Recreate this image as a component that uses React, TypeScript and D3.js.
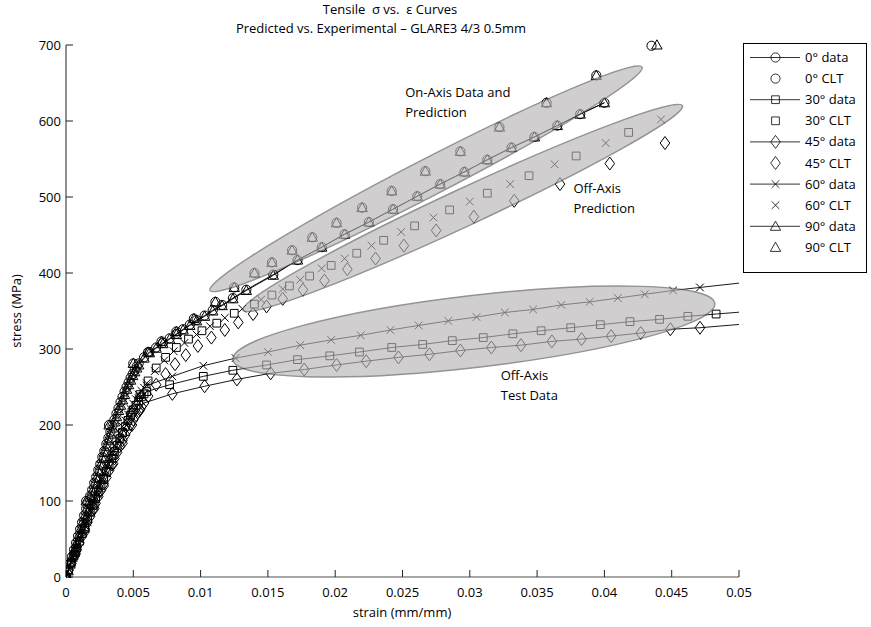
import React from "react";
import * as d3 from "d3";

const WIDTH = 871;
const HEIGHT = 627;

const xTickValues = [0, 0.005, 0.01, 0.015, 0.02, 0.025, 0.03, 0.035, 0.04, 0.045, 0.05];
const xTickLabels = ["0", "0.005", "0.01", "0.015", "0.02", "0.025", "0.03", "0.035", "0.04", "0.045", "0.05"];
const yTickValues = [0, 100, 200, 300, 400, 500, 600, 700];

// [strain (mm/mm), stress (MPa)]
const data0 = [
  [0, 0], [0.00015, 9], [0.0003, 18], [0.00045, 27], [0.0006, 36], [0.00075, 45], [0.0009, 54],
  [0.00105, 63], [0.0012, 72], [0.00135, 81], [0.0015, 90], [0.00165, 98], [0.0018, 107],
  [0.00195, 115], [0.0021, 124], [0.00225, 132], [0.0024, 141], [0.00255, 149], [0.0027, 158],
  [0.00285, 166], [0.003, 175], [0.00315, 183], [0.0033, 191], [0.00345, 199], [0.0036, 207],
  [0.00375, 215], [0.0039, 222], [0.00405, 230], [0.0042, 237], [0.00435, 244], [0.0045, 250],
  [0.00465, 256], [0.0048, 262], [0.00495, 267], [0.0051, 272], [0.00525, 277], [0.0054, 281],
  [0.0058, 289], [0.0062, 296], [0.0067, 302], [0.0072, 308], [0.0077, 314], [0.0082, 320],
  [0.0087, 326], [0.0092, 332], [0.0097, 338], [0.0103, 344], [0.0109, 351], [0.0116, 358],
  [0.0124, 367], [0.0134, 378], [0.0154, 398], [0.0172, 417], [0.019, 434], [0.0207, 451],
  [0.0225, 467], [0.0243, 484], [0.0261, 501], [0.0278, 517], [0.0296, 533], [0.0313, 549],
  [0.0331, 565], [0.0348, 579], [0.0365, 594], [0.0382, 609], [0.04, 624],
];
const clt0 = [
  [0, 0], [0.0015, 100], [0.0032, 200], [0.005, 281], [0.0061, 296], [0.0071, 310], [0.0082, 323],
  [0.0095, 340], [0.0111, 362], [0.0125, 381], [0.014, 400], [0.0153, 414], [0.0168, 430],
  [0.0183, 447], [0.0201, 466], [0.022, 486], [0.0242, 508], [0.0267, 534], [0.0293, 560],
  [0.0322, 592], [0.0357, 624], [0.0394, 660], [0.0435, 699],
];
const data30 = [
  [0, 0], [0.0002, 9.5], [0.0004, 19], [0.0006, 28], [0.0008, 38], [0.001, 47], [0.0012, 57],
  [0.0014, 66], [0.0016, 76], [0.0018, 85], [0.002, 94], [0.0022, 103], [0.0024, 112],
  [0.0026, 121], [0.0028, 130], [0.003, 139], [0.0032, 148], [0.0034, 156], [0.0036, 165],
  [0.0038, 173], [0.004, 182], [0.0042, 190], [0.0044, 198], [0.0046, 206], [0.0048, 213],
  [0.005, 220], [0.0052, 226], [0.0054, 232], [0.0056, 237], [0.0058, 241], [0.006, 244],
  [0.0077, 253], [0.0102, 264], [0.0124, 272], [0.0149, 279], [0.0172, 286], [0.0196, 291],
  [0.0218, 296], [0.0242, 302], [0.0265, 306], [0.0287, 311], [0.031, 315], [0.0332, 320],
  [0.0353, 324], [0.0375, 328], [0.0397, 332], [0.0419, 336], [0.0441, 339], [0.0462, 343],
  [0.0483, 346], [0.0504, 349],
];
const clt30 = [
  [0, 0], [0.0007, 32], [0.0014, 64], [0.0021, 96], [0.0028, 128], [0.0035, 160], [0.0042, 190],
  [0.0049, 217], [0.0055, 240], [0.0061, 258], [0.0067, 275], [0.0074, 289], [0.0082, 302],
  [0.0091, 313], [0.0101, 324], [0.0112, 334], [0.0125, 347], [0.014, 359], [0.0153, 371],
  [0.0166, 383], [0.0181, 396], [0.0197, 410], [0.0216, 426], [0.0236, 443], [0.0259, 462],
  [0.0285, 483], [0.0313, 505], [0.0344, 528], [0.0379, 554], [0.0418, 585],
];
const data45 = [
  [0, 0], [0.0002, 9], [0.0004, 18], [0.0006, 27], [0.0008, 36], [0.001, 45], [0.0012, 54],
  [0.0014, 63], [0.0016, 72], [0.0018, 80], [0.002, 89], [0.0022, 97], [0.0024, 106],
  [0.0026, 114], [0.0028, 123], [0.003, 131], [0.0032, 140], [0.0034, 148], [0.0036, 156],
  [0.0038, 164], [0.004, 172], [0.0042, 180], [0.0044, 187], [0.0046, 194], [0.0048, 201],
  [0.005, 207], [0.0052, 213], [0.0054, 218], [0.0056, 224], [0.0058, 229], [0.0079, 241],
  [0.0103, 251], [0.0127, 260], [0.0152, 268], [0.0177, 273], [0.0201, 279], [0.0223, 284],
  [0.0247, 289], [0.027, 293], [0.0293, 298], [0.0316, 302], [0.0338, 305], [0.0361, 310],
  [0.0383, 313], [0.0405, 317], [0.0427, 321], [0.0449, 326], [0.0471, 328], [0.0505, 333],
];
const clt45 = [
  [0, 0], [0.0007, 30], [0.0014, 60], [0.0021, 90], [0.0028, 120], [0.0035, 149], [0.0042, 176],
  [0.0049, 200], [0.0055, 220], [0.0061, 238], [0.0067, 253], [0.0074, 267], [0.0081, 280],
  [0.0089, 292], [0.0098, 304], [0.0108, 315], [0.0118, 325], [0.0128, 335], [0.0139, 346],
  [0.0149, 356], [0.0161, 366], [0.0176, 378], [0.0192, 390], [0.0209, 405], [0.023, 419],
  [0.0251, 436], [0.0275, 456], [0.0303, 474], [0.0333, 495], [0.0367, 517], [0.0404, 544],
  [0.0445, 571],
];
const data60 = [
  [0, 0], [0.0002, 10], [0.0004, 20], [0.0006, 30], [0.0008, 40], [0.001, 50], [0.0012, 60],
  [0.0014, 70], [0.0016, 80], [0.0018, 90], [0.002, 99], [0.0022, 109], [0.0024, 118],
  [0.0026, 128], [0.0028, 137], [0.003, 146], [0.0032, 155], [0.0034, 164], [0.0036, 173],
  [0.0038, 182], [0.004, 190], [0.0042, 198], [0.0044, 206], [0.0046, 214], [0.0048, 221],
  [0.005, 228], [0.0052, 234], [0.0054, 240], [0.0056, 245], [0.0058, 249], [0.006, 252],
  [0.0079, 264], [0.0102, 278], [0.0126, 288], [0.015, 296], [0.0174, 305], [0.0197, 312],
  [0.0219, 318], [0.0241, 325], [0.0262, 331], [0.0284, 337], [0.0305, 342], [0.0326, 348],
  [0.0347, 352], [0.0368, 358], [0.0389, 362], [0.041, 367], [0.043, 372], [0.0451, 377],
  [0.0471, 381], [0.0512, 389],
];
const clt60 = [
  [0, 0], [0.0008, 36], [0.0016, 72], [0.0024, 108], [0.0032, 144], [0.004, 180], [0.0047, 210],
  [0.0054, 235], [0.006, 255], [0.0066, 271], [0.0073, 285], [0.008, 297], [0.0088, 308],
  [0.0097, 319], [0.0107, 330], [0.0118, 341], [0.0131, 353], [0.0145, 365], [0.0161, 379],
  [0.0174, 391], [0.019, 406], [0.0207, 419], [0.0227, 436], [0.0249, 454], [0.0273, 473],
  [0.03, 494], [0.033, 517], [0.0363, 543], [0.0401, 571], [0.0442, 602],
];
const data90 = [
  [0, 0], [0.00015, 8], [0.0003, 17], [0.00045, 26], [0.0006, 35], [0.00075, 44], [0.0009, 53],
  [0.00105, 62], [0.0012, 71], [0.00135, 79], [0.0015, 88], [0.00165, 96], [0.0018, 105],
  [0.00195, 113], [0.0021, 122], [0.00225, 130], [0.0024, 139], [0.00255, 147], [0.0027, 156],
  [0.00285, 164], [0.003, 172], [0.00315, 180], [0.0033, 188], [0.00345, 196], [0.0036, 204],
  [0.00375, 211], [0.0039, 219], [0.00405, 226], [0.0042, 233], [0.00435, 240], [0.0045, 247],
  [0.00465, 253], [0.0048, 259], [0.00495, 265], [0.0051, 270], [0.00525, 275], [0.0054, 279],
  [0.0058, 288], [0.0062, 295], [0.0067, 301], [0.0072, 307], [0.0077, 313], [0.0082, 319],
  [0.0087, 325], [0.0092, 331], [0.0097, 337], [0.0103, 343], [0.0109, 350], [0.0116, 357],
  [0.0124, 366], [0.0134, 377], [0.0154, 397], [0.0172, 417], [0.019, 434], [0.0207, 451],
  [0.0225, 467], [0.0243, 484], [0.0261, 501], [0.0278, 517], [0.0296, 533], [0.0313, 549],
  [0.0331, 565], [0.0348, 579], [0.0365, 594], [0.0382, 609], [0.04, 624],
];
const clt90 = [
  [0, 0], [0.0015, 100], [0.0032, 200], [0.005, 281], [0.0061, 296], [0.0071, 310], [0.0082, 323],
  [0.0095, 340], [0.0111, 362], [0.0125, 381], [0.014, 400], [0.0153, 414], [0.0168, 430],
  [0.0183, 447], [0.0201, 466], [0.022, 486], [0.0242, 508], [0.0267, 534], [0.0293, 560],
  [0.0322, 592], [0.0357, 624], [0.0394, 660], [0.0439, 700],
];

const legendLabels = [
  "0° data", "0° CLT", "30° data", "30° CLT", "45° data",
  "45° CLT", "60° data", "60° CLT", "90° data", "90° CLT",
];

// shaded regions: the two tips of each ellipse, [strain, stress]
const ellipseTips = [
  [[0.0107, 377], [0.0428, 671]],
  [[0.01315, 351], [0.0458, 620]],
  [[0.0124, 286], [0.0482, 360]],
];
const annotationText = [
  ["On-Axis Data and", "Prediction"],
  ["Off-Axis", "Prediction"],
  ["Off-Axis", "Test Data"],
];
const annotationAt = [
  [0.0252, 631],
  [0.0377, 505],
  [0.0323, 259],
];

const FONT = "'Open Sans', 'Noto Sans', sans-serif";

function diamond() {
  const p = d3.path();
  p.moveTo(0, -6.5);
  p.lineTo(4.8, 0);
  p.lineTo(0, 6.5);
  p.lineTo(-4.8, 0);
  p.closePath();
  return p.toString();
}

function triangle() {
  const p = d3.path();
  p.moveTo(0, -5.2);
  p.lineTo(5.2, 4);
  p.lineTo(-5.2, 4);
  p.closePath();
  return p.toString();
}

const markerPaths: Record<string, string> = {
  circle: d3.symbol(d3.symbolCircle, 66)() as string,
  square: d3.symbol(d3.symbolSquare, 60)() as string,
  diamond: diamond(),
  x: d3.symbol(d3.symbolX, 40)() as string,
  triangle: triangle(),
};

const series = [
  { pts: data0, marker: "circle", line: true },
  { pts: clt0, marker: "circle", line: false },
  { pts: data30, marker: "square", line: true },
  { pts: clt30, marker: "square", line: false },
  { pts: data45, marker: "diamond", line: true },
  { pts: clt45, marker: "diamond", line: false },
  { pts: data60, marker: "x", line: true },
  { pts: clt60, marker: "x", line: false },
  { pts: data90, marker: "triangle", line: true },
  { pts: clt90, marker: "triangle", line: false },
];

export default function App() {
  const x = d3.scaleLinear().domain([0, 0.05]).range([66, 739]);
  const y = d3.scaleLinear().domain([0, 700]).range([577, 45]);
  const line = d3
    .line<number[]>()
    .x((d) => x(d[0]))
    .y((d) => y(d[1]));

  const ellipses = ellipseTips.map(([a, b], i) => {
    const x1 = x(a[0]), y1 = y(a[1]), x2 = x(b[0]), y2 = y(b[1]);
    const rx = Math.hypot(x2 - x1, y2 - y1) / 2;
    const angle = (Math.atan2(y2 - y1, x2 - x1) * 180) / Math.PI;
    return { cx: (x1 + x2) / 2, cy: (y1 + y2) / 2, rx, ry: i === 2 ? 36 : 18.5, angle };
  });

  return (
    <svg
      width={WIDTH}
      height={HEIGHT}
      style={{ position: "absolute", left: 0, top: 0, background: "#fff" }}
      fontFamily={FONT}
    >
      <defs>
        <clipPath id="plotArea">
          <rect x={66} y={30} width={673} height={548} />
        </clipPath>
      </defs>

      {/* title */}
      <text x={390} y={14} textAnchor="middle" fontSize={13}>
        {"Tensile\u00a0 σ vs.\u00a0 ε Curves"}
      </text>
      <text x={381} y={33} textAnchor="middle" fontSize={13}>
        Predicted vs. Experimental – GLARE3 4/3 0.5mm
      </text>

      {/* axes */}
      <line x1={66} x2={739} y1={577} y2={577} stroke="#8a8a8a" strokeWidth={1.6} />
      <line x1={66} x2={66} y1={45} y2={577} stroke="#222" strokeWidth={1} />
      {xTickValues.map((t, i) => (
        <g key={"xt" + i}>
          <line x1={x(t)} x2={x(t)} y1={577} y2={570} stroke="#222" />
          <text x={x(t)} y={597} textAnchor="middle" fontSize={13}>
            {xTickLabels[i]}
          </text>
        </g>
      ))}
      {yTickValues.map((t) => (
        <g key={"yt" + t}>
          <line x1={66} x2={73} y1={y(t)} y2={y(t)} stroke="#222" />
          <text x={61} y={y(t) + 4.5} textAnchor="end" fontSize={13}>
            {t}
          </text>
        </g>
      ))}
      <text x={402} y={617} textAnchor="middle" fontSize={13}>
        strain (mm/mm)
      </text>
      <text transform="translate(21,311) rotate(-90)" textAnchor="middle" fontSize={13}>
        stress (MPa)
      </text>

      {/* curves */}
      <g clipPath="url(#plotArea)">
        {series.map((s, i) =>
          s.line ? (
            <path key={"l" + i} d={line(s.pts) || ""} fill="none" stroke="#000" strokeWidth={0.9} />
          ) : null
        )}
        {series.map((s, i) =>
          s.pts.map((d, j) => (
            <path
              key={"m" + i + "-" + j}
              d={markerPaths[s.marker]}
              transform={`translate(${x(d[0])},${y(d[1])})`}
              fill="none"
              stroke="#000"
              strokeWidth={1}
            />
          ))
        )}
      </g>

      {/* shaded regions */}
      {ellipses.map((e, i) => (
        <ellipse
          key={"e" + i}
          cx={0}
          cy={0}
          rx={e.rx}
          ry={e.ry}
          transform={`translate(${e.cx},${e.cy}) rotate(${e.angle})`}
          fill="#b8b4b4"
          stroke="#5a5a5a"
          strokeWidth={1.4}
          opacity={0.65}
        />
      ))}

      {annotationText.map((lines, i) => (
        <text key={"a" + i} x={x(annotationAt[i][0])} y={y(annotationAt[i][1])} fontSize={13}>
          {lines.map((t, j) => (
            <tspan key={j} x={x(annotationAt[i][0])} dy={j === 0 ? 0 : 20}>
              {t}
            </tspan>
          ))}
        </text>
      ))}

      {/* legend */}
      <rect x={743.5} y={43.5} width={123} height={229} fill="#fff" stroke="#000" strokeWidth={1} />
      {series.map((s, i) => {
        const ly = 57.5 + i * 21.1;
        return (
          <g key={"lg" + i}>
            {s.line && <line x1={750} x2={800} y1={ly} y2={ly} stroke="#000" strokeWidth={0.8} />}
            <path
              d={markerPaths[s.marker]}
              transform={`translate(775.5,${ly})`}
              fill="none"
              stroke="#000"
              strokeWidth={0.8}
            />
            <text x={805} y={ly + 4.5} fontSize={13}>
              {legendLabels[i]}
            </text>
          </g>
        );
      })}
    </svg>
  );
}
